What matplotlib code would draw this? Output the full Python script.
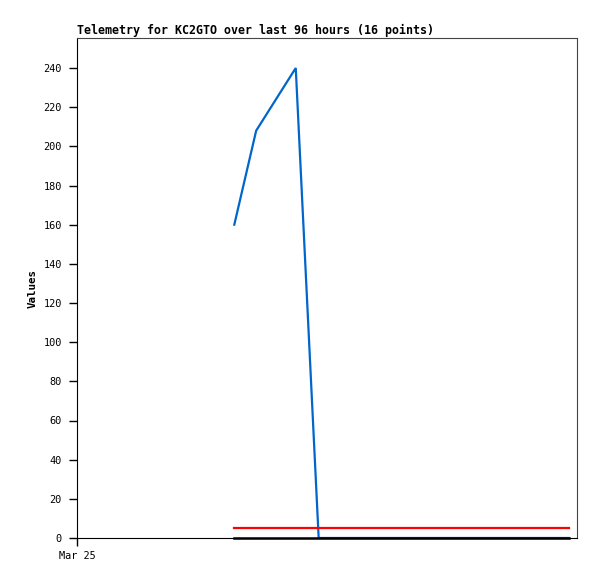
import matplotlib
matplotlib.use("Agg")
from matplotlib import pyplot as plt

# Hours since Mar 25 00:00 for the 16 telemetry samples
HOURS = [7.55, 8.6, 10.5, 11.6, 12.6, 13.6, 14.6, 15.6,
         16.6, 17.6, 18.6, 19.6, 20.6, 21.6, 22.6, 23.6]

# Telemetry channels
CHANNEL_A = [160, 208, 240, 0, 0, 0, 0, 0, 0, 0, 0, 0, 0, 0, 0, 0]
CHANNEL_B = [5] * 16
CHANNEL_C = [0] * 16

X_TICKS = [0]
X_TICK_LABELS = ["Mar 25"]
Y_TICKS = list(range(0, 241, 20))

TITLE = "Telemetry for KC2GTO over last 96 hours (16 points)"

plt.rcParams["font.family"] = ["DejaVu Sans Mono"]

fig = plt.figure(figsize=(5.97, 5.79), dpi=100)
ax = fig.add_axes([77 / 597, 41 / 579, 500 / 597, 500 / 579])

ax.plot(HOURS, CHANNEL_A, color="#0066cc", linewidth=1.6, solid_joinstyle="miter")
ax.plot(HOURS, CHANNEL_B, color="#ff0000", linewidth=1.6)
ax.plot(HOURS, CHANNEL_C, color="#000000", linewidth=1.8, clip_on=False)

ax.set_xlim(0, 24)
ax.set_ylim(0, 500 / (470 / 240))
ax.set_xticks(X_TICKS)
ax.set_xticklabels(X_TICK_LABELS)
ax.set_yticks(Y_TICKS)

ax.tick_params(axis="both", direction="out", length=5.5, width=1, labelsize=7.4, color="black")
ax.tick_params(axis="y", pad=5.5)
ax.tick_params(axis="x", pad=4)

for side in ("top", "right"):
    ax.spines[side].set_color("#444444")
for side in ("left", "bottom"):
    ax.spines[side].set_color("black")

ax.set_ylabel("Values", fontsize=7.8, fontweight="bold", labelpad=4)
ax.set_title(TITLE, loc="left", fontsize=8.35, fontweight="bold", pad=3)

fig.savefig("out.png", dpi=100)
